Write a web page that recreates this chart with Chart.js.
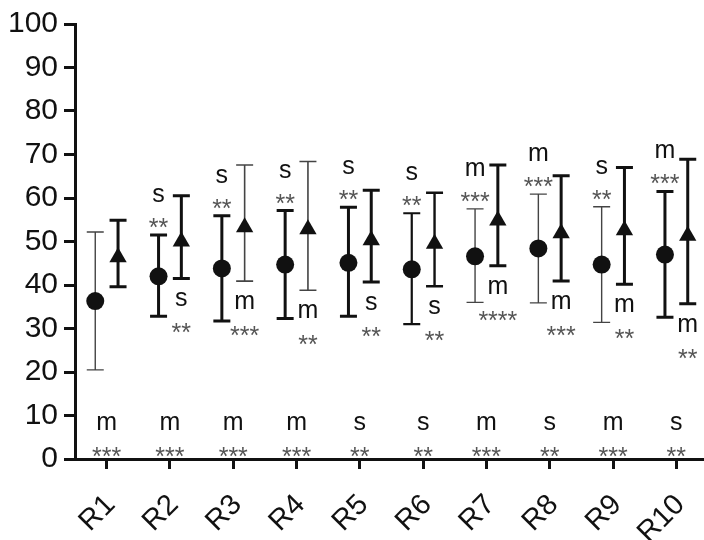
<!DOCTYPE html>
<html>
<head>
<meta charset="utf-8">
<script src="https://cdn.jsdelivr.net/npm/chart.js@4"></script>
<style>
  html, body { margin: 0; padding: 0; background: #fff; overflow: hidden; }
  canvas { display: block; }
</style>
</head>
<body>
<canvas id="chart" width="708" height="540"></canvas>
<script>
// -----------------------------
// Data
// -----------------------------
const categories = ["R1", "R2", "R3", "R4", "R5", "R6", "R7", "R8", "R9", "R10"];
const yTicks = [0, 10, 20, 30, 40, 50, 60, 70, 80, 90, 100];

const circleMean = [36.3, 42.0, 43.8, 44.7, 45.1, 43.6, 46.6, 48.4, 44.7, 47.0];
const circleLow  = [20.5, 32.8, 31.7, 32.3, 32.8, 31.0, 36.0, 35.9, 31.4, 32.6];
const circleHigh = [52.2, 51.5, 55.9, 57.1, 57.9, 56.5, 57.5, 60.9, 58.0, 61.5];

const triMean = [46.4, 50.0, 53.3, 52.8, 50.3, 49.5, 54.8, 51.9, 52.6, 51.3];
const triLow  = [39.6, 41.5, 40.9, 38.8, 40.7, 39.7, 44.4, 40.9, 40.2, 35.7];
const triHigh = [54.9, 60.5, 67.6, 68.4, 61.8, 61.2, 67.6, 65.1, 67.0, 68.9];

// significance labels
const circleTag   = ["", "s", "s", "s", "s", "s", "m", "m", "s", "m"];
const circleStars = ["", "**", "**", "**", "**", "**", "***", "***", "**", "***"];
const triTag      = ["", "s", "m", "m", "s", "s", "m", "m", "m", "m"];
const triStars    = ["", "**", "***", "**", "**", "**", "****", "***", "**", "**"];
const baseTag     = ["m", "m", "m", "m", "s", "s", "m", "s", "m", "s"];
const baseStars   = ["***", "***", "***", "***", "**", "**", "***", "**", "***", "**"];

// line weights of the error bars (as printed)
const circleBarWidth = [1.4, 3, 3, 3, 3, 2.2, 1.4, 1.4, 1.4, 3];
const triBarWidth    = [3, 3, 1.6, 1.6, 3, 2.4, 3, 3, 3, 3];

const SHIFT = 0.18;
const INK = "#111";
const FONT = "'Liberation Sans', Arial, sans-serif";

// -----------------------------
// Helper: error bars drawn under the markers
// -----------------------------
const errorBars = {
  id: "errorBars",
  beforeDatasetsDraw(chart) {
    const { ctx, scales: { x, y } } = chart;
    const groups = [
      { lo: circleLow, hi: circleHigh, w: circleBarWidth, dx: -SHIFT },
      { lo: triLow, hi: triHigh, w: triBarWidth, dx: SHIFT }
    ];
    ctx.save();
    groups.forEach(g => {
      categories.forEach((c, i) => {
        const px = x.getPixelForValue(i + 1 + g.dx);
        const top = y.getPixelForValue(g.hi[i]);
        const bot = y.getPixelForValue(g.lo[i]);
        ctx.strokeStyle = g.w[i] < 2 ? "#444" : INK;
        ctx.lineWidth = g.w[i];
        ctx.beginPath();
        ctx.moveTo(px, top); ctx.lineTo(px, bot);
        ctx.moveTo(px - 8.5, top); ctx.lineTo(px + 8.5, top);
        ctx.moveTo(px - 8.5, bot); ctx.lineTo(px + 8.5, bot);
        ctx.stroke();
      });
    });
    ctx.restore();
  }
};

// -----------------------------
// Helper: "s"/"m" tags and stars
// -----------------------------
const tags = {
  id: "tags",
  afterDraw(chart) {
    const { ctx, scales: { x, y } } = chart;
    const y0 = y.getPixelForValue(0);
    ctx.save();
    ctx.textAlign = "center";
    ctx.textBaseline = "alphabetic";
    const put = (txt, px, py, color) => {
      if (!txt) return;
      ctx.fillStyle = color;
      ctx.fillText(txt, px, py);
    };
    ctx.font = "25px " + FONT;
    categories.forEach((c, i) => {
      const cx = x.getPixelForValue(i + 1 - SHIFT);
      const tx = x.getPixelForValue(i + 1 + SHIFT);
      const mx = x.getPixelForValue(i + 1);
      const capTop = y.getPixelForValue(circleHigh[i]);
      const capBot = y.getPixelForValue(triLow[i]);
      put(circleTag[i], cx, capTop - 33, INK);
      put(circleStars[i], cx, capTop + 1, "#555");
      put(triTag[i], tx, capBot + 28, INK);
      put(triStars[i], tx, capBot + 63, "#555");
      put(baseTag[i], mx, y0 - 29, INK);
      put(baseStars[i], mx, y0 + 6, "#555");
    });
    ctx.restore();
  }
};

new Chart(document.getElementById("chart"), {
  type: "scatter",
  data: {
    datasets: [
      {
        label: "circle",
        data: circleMean.map((v, i) => ({ x: i + 1 - SHIFT, y: v })),
        pointStyle: "circle",
        pointRadius: 9,
        pointHoverRadius: 9,
        backgroundColor: INK,
        borderColor: INK,
        borderWidth: 0
      },
      {
        label: "triangle",
        data: triMean.map((v, i) => ({ x: i + 1 + SHIFT, y: v })),
        pointStyle: "triangle",
        pointRadius: 10,
        pointHoverRadius: 10,
        backgroundColor: INK,
        borderColor: INK,
        borderWidth: 0
      }
    ]
  },
  options: {
    responsive: false,
    animation: false,
    devicePixelRatio: 1,
    events: [],
    layout: { autoPadding: false, padding: { top: 23, right: 0, left: 0, bottom: 0 } },
    plugins: { legend: { display: false }, tooltip: { enabled: false } },
    scales: {
      x: {
        type: "linear",
        min: 0.5,
        max: 10.5,
        afterBuildTicks: s => { s.ticks = categories.map((c, i) => ({ value: i + 1 })); },
        afterFit: s => { s.height = 81; s.paddingLeft = 0; s.paddingRight = 0; },
        border: { display: true, color: INK, width: 3 },
        grid: { drawOnChartArea: false, drawTicks: true, tickLength: 10, tickWidth: 3, color: INK },
        ticks: {
          autoSkip: false,
          minRotation: 45,
          maxRotation: 45,
          labelOffset: 4,
          padding: 19,
          color: INK,
          font: { family: FONT, size: 29 },
          callback: v => categories[v - 1]
        }
      },
      y: {
        min: 0,
        max: 100,
        afterBuildTicks: s => { s.ticks = yTicks.map(v => ({ value: v })); },
        afterFit: s => { s.width = 75; },
        border: { display: true, color: INK, width: 3 },
        grid: { drawOnChartArea: false, drawTicks: true, tickLength: 11, tickWidth: 3, color: INK },
        ticks: {
          padding: 6,
          color: INK,
          font: { family: FONT, size: 30 }
        }
      }
    }
  },
  plugins: [errorBars, tags]
});
</script>
</body>
</html>
